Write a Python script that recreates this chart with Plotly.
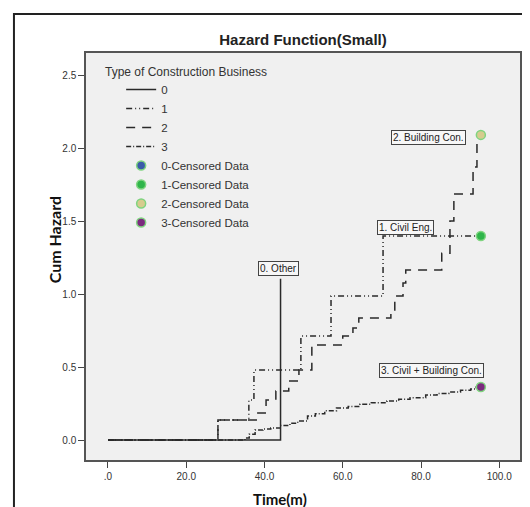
import plotly.graph_objects as go

# ---- data ----
t0 = [0, 44.1]
h0 = [0, 1.105]

t1 = [0, 28.1, 36.0, 37.3, 49.3, 57.0, 70.3, 95.3]
h1 = [0, 0.137, 0.274, 0.479, 0.712, 0.986, 1.397, 1.397]

t2 = [0, 28.1, 38.3, 40.4, 42.9, 46.2, 48.8, 52.1, 60.0, 62.6, 64.1, 72.3, 73.3, 75.4, 76.1, 85.3, 87.4, 88.4, 93.3, 94.3, 95.3]
h2 = [0, 0.137, 0.185, 0.274, 0.336, 0.404, 0.479, 0.651, 0.712, 0.767, 0.836, 0.890, 0.986, 1.075, 1.164, 1.280, 1.500, 1.685, 1.870, 2.090, 2.090]

t3 = [0, 35.0, 36.1, 37.6, 39.6, 41.6, 44.0, 46.5, 48.5, 51.0, 53.0, 55.4, 58.4, 61.4, 64.4, 67.3, 71.3, 74.3, 77.2, 81.2, 84.1, 87.1, 90.1, 92.7, 94.1, 95.3]
h3 = [0, 0.014, 0.040, 0.068, 0.075, 0.082, 0.100, 0.115, 0.130, 0.164, 0.180, 0.200, 0.219, 0.230, 0.245, 0.255, 0.267, 0.280, 0.290, 0.308, 0.318, 0.328, 0.340, 0.349, 0.363, 0.363]

cens_t = {0: [], 1: [95.3], 2: [95.3], 3: [95.3]}
cens_h = {0: [], 1: [1.397], 2: [2.090], 3: [0.363]}

group_names = ["0", "1", "2", "3"]
cens_names = ["0-Censored Data", "1-Censored Data", "2-Censored Data", "3-Censored Data"]
curve_labels = ["0. Other", "1. Civil Eng.", "2. Building Con.", "3. Civil + Building Con."]
label_x = [43.7, 76.1, 82.0, 82.8]
label_y = [1.178, 1.455, 2.072, 0.476]

x_ticks = [0, 20, 40, 60, 80, 100]
x_ticktext = [".0", "20.0", "40.0", "60.0", "80.0", "100.0"]
y_ticks = [0, 0.5, 1.0, 1.5, 2.0, 2.5]
y_ticktext = ["0.0", "0.5", "1.0", "1.5", "2.0", "2.5"]

# ---- styles ----
line_col = "#2a2a2a"
dashes = ["solid", "6px,3px,1px,3px,1px,3px", "9px,7px", "5px,2px,1px,2px"]
cens_fill = ["#3b5ba9", "#2fb54a", "#d6cc8e", "#7b2a7e"]
cens_edge = "#7fd47f"

fig = go.Figure()
for name, tt, hh, d in zip(group_names, [t0, t1, t2, t3], [h0, h1, h2, h3], dashes):
    fig.add_trace(go.Scatter(x=tt, y=hh, mode="lines", line_shape="hv", name=name,
                             line=dict(color=line_col, width=1.5, dash=d)))
for i, nm in enumerate(cens_names):
    xs = cens_t[i] if cens_t[i] else [None]
    ys = cens_h[i] if cens_h[i] else [None]
    fig.add_trace(go.Scatter(x=xs, y=ys, mode="markers", name=nm,
                             marker=dict(size=9, color=cens_fill[i],
                                         line=dict(color=cens_edge, width=1.5))))

for txt, lx, ly in zip(curve_labels, label_x, label_y):
    fig.add_annotation(x=lx, y=ly, xref="x", yref="y", text=txt, showarrow=False,
                       font=dict(family="Liberation Sans", size=10, color="#222"),
                       bordercolor="#444", borderwidth=1, borderpad=1, bgcolor="#f7f7f7")

fig.add_annotation(x=0.039, y=0.953, xref="paper", yref="paper", xanchor="left", yanchor="middle",
                   text="Type of Construction Business", showarrow=False,
                   font=dict(family="Liberation Sans", size=12, color="#333"))
fig.add_annotation(x=-0.10, y=0.54, xref="paper", yref="paper", text="<b>Cum Hazard</b>",
                   textangle=-90, showarrow=False, font=dict(family="Lato", size=16, color="#111"))
fig.add_annotation(x=0.447, y=-0.068, xref="paper", yref="paper", yanchor="top",
                   text="<b>Time(m)</b>", showarrow=False,
                   font=dict(family="Lato", size=15, color="#111"))

fig.add_shape(type="rect", xref="paper", yref="paper", x0=-0.166, x1=1.09, y0=-0.2, y1=1.096,
              line=dict(color="#222", width=2), fillcolor="rgba(0,0,0,0)", layer="above")

fig.update_layout(
    width=530, height=507,
    margin=dict(l=78, r=18, t=45, b=55),
    paper_bgcolor="white", plot_bgcolor="#f0f0f0",
    title=dict(text="<b>Hazard Function(Small)</b>", x=0.5, xref="paper", y=1 - 32 / 507,
               yanchor="middle", font=dict(family="Liberation Sans", size=15, color="#222")),
    showlegend=True,
    legend=dict(x=0.081, y=0.946, xanchor="left", yanchor="top", bgcolor="rgba(0,0,0,0)",
                font=dict(family="Liberation Sans", size=11.5, color="#333"), tracegroupgap=0),
    xaxis=dict(range=[-5.62, 105.3], tickvals=x_ticks, ticktext=x_ticktext, showgrid=False,
               zeroline=False, ticks="outside", ticklen=6, tickcolor="#444", showline=True,
               linecolor="#555", linewidth=1.5, mirror=True,
               tickfont=dict(family="Liberation Sans", size=10, color="#333")),
    yaxis=dict(range=[-0.137, 2.651], tickvals=y_ticks, ticktext=y_ticktext, showgrid=False,
               zeroline=False, ticks="outside", ticklen=6, tickcolor="#444", showline=True,
               linecolor="#555", linewidth=1.5, mirror=True,
               tickfont=dict(family="Liberation Sans", size=10, color="#333")),
)
fig.write_html("out.html")
